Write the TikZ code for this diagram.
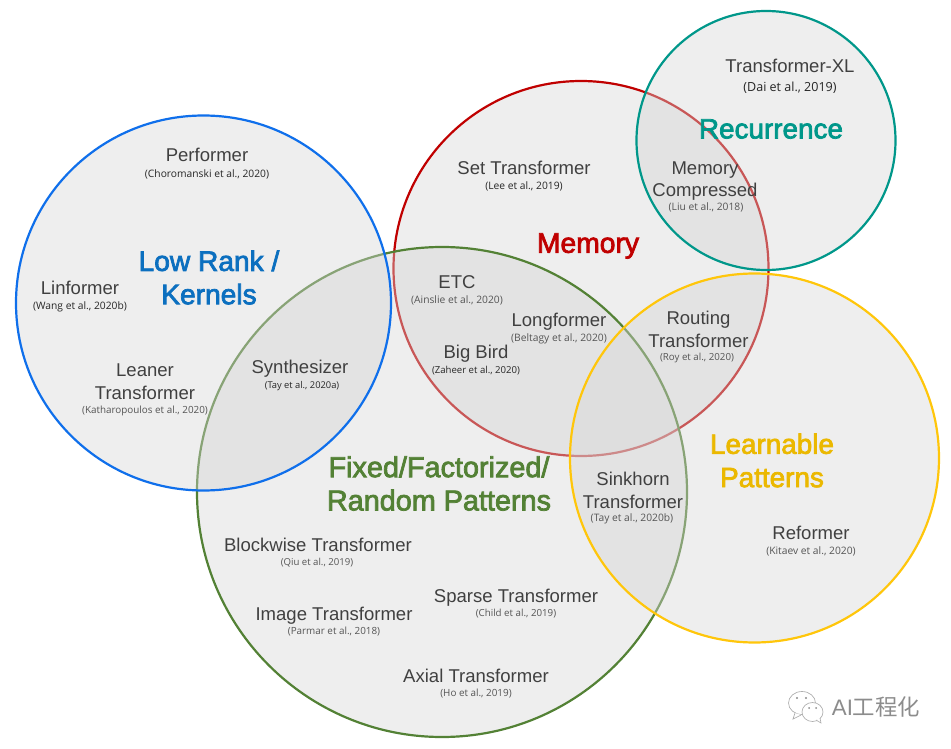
\documentclass[tikz,border=0pt]{standalone}
\usepackage{fontspec}
\setmainfont{Liberation Sans}
\newfontfamily\citefont{Open Sans}
\newfontfamily\cjkfont{Noto Sans CJK SC}
\newfontfamily\headfont[FakeBold=2.6]{Liberation Sans}

\definecolor{lowblue}{HTML}{0B6FBF}
\definecolor{lowline}{HTML}{0F6FEB}
\definecolor{memred}{HTML}{C00000}
\definecolor{recteal}{HTML}{00978A}
\definecolor{fixgreen}{HTML}{538135}
\definecolor{learnyellow}{HTML}{FFC60B}
\definecolor{learntext}{HTML}{EBB800}
\definecolor{ringgray}{HTML}{D5D5D5}
\definecolor{labelgray}{HTML}{404040}
\definecolor{citegray}{HTML}{555555}
\definecolor{markgray}{HTML}{8C8C8C}

\tikzset{
  ring/.style={line width=1.65pt, fill=ringgray, fill opacity=0.41, draw opacity=1},
  model/.style={text=labelgray, font=\fontsize{13.9pt}{17pt}\selectfont, align=center, inner sep=0pt},
  cite/.style={text=citegray, font=\citefont\fontsize{#1pt}{9pt}\selectfont, inner sep=0pt, yshift=-0.75pt},
  cite/.default=7.7,
  citedark/.style={cite=#1, text=black!85},
  citedark/.default=7.7,
  family/.style={font=\headfont\fontsize{#1pt}{25pt}\selectfont, align=center, inner sep=0pt},
  family/.default=20.9,
}

\begin{document}
\begin{tikzpicture}[x=0.75pt, y=-0.75pt]
  \useasboundingbox (0,0) rectangle (951,749);

  % Circles
  \draw[ring, draw=memred] (581,268.5) circle (187.5);
  \draw[ring, draw=fixgreen] (442,492) circle (245);
  \draw[ring, draw=lowline] (203.5,303) circle (187.5);
  \draw[ring, draw=learnyellow] (754.5,458) circle (184.5);
  \draw[ring, draw=recteal] (766,140.5) circle (129.5);

  % Family names
  \node[family=21.1, text=lowblue] (lowrank) at (209,277.5) {Low Rank /\\[0pt]Kernels};
  \node[family=21.2, text=memred] (memory) at (588,246) {Memory};
  \node[family, text=recteal] (recurrence) at (771,129) {Recurrence};
  \node[family, text=learntext] (learnable) at (772,460.5) {Learnable\\[0pt]Patterns};
  \node[family=21.6, text=fixgreen] (fixed) at (439,483.5) {Fixed/Factorized/\\[0pt]Random Patterns};

  % Low rank
  \node[model] (performer) at (207,155) {Performer};
  \node[citedark] (performercite) at (207,173) {(Choromanski et al., 2020)};
  \node[model] (linformer) at (80,288) {Linformer};
  \node[citedark] (linformercite) at (80,306) {(Wang et al., 2020b)};
  \node[model] (leaner) at (145,381.5) {Leaner\\Transformer};
  \node[cite=7.4] (leanercite) at (145,410) {(Katharopoulos et al., 2020)};
  \node[model] (synthesizer) at (300,369) {Synthesizer};
  \node[citedark=7] (synthesizercite) at (302,385) {(Tay et al., 2020a)};

  % Memory
  \node[model] (settrans) at (524,168) {Set Transformer};
  \node[citedark] (settranscite) at (524,185) {(Lee et al., 2019)};
  \node[model] (etc) at (457,282) {ETC};
  \node[cite] (etccite) at (457,299) {(Ainslie et al., 2020)};
  \node[model] (longformer) at (559,322) {Longformer};
  \node[cite] (longformercite) at (559,338) {(Beltagy et al., 2020)};
  \node[model] (bigbird) at (476,354) {Big Bird};
  \node[citedark=7.2] (bigbirdcite) at (476,370) {(Zaheer et al., 2020)};
  \node[model] (routing) at (698.5,329.5) {Routing\\Transformer};
  \node[cite=7.3] (routingcite) at (697,357) {(Roy et al., 2020)};
  \node[model] (compressed) at (705,181) {Memory\\Compressed};
  \node[cite] (compressedcite) at (706,206) {(Liu et al., 2018)};

  % Recurrence
  \node[model] (xl) at (790,66) {Transformer-XL};
  \node[citedark=9.4] (xlcite) at (790,87) {(Dai et al., 2019)};

  % Learnable
  \node[model] (sinkhorn) at (633,490.5) {Sinkhorn\\Transformer};
  \node[cite] (sinkhorncite) at (632,518) {(Tay et al., 2020b)};
  \node[model] (reformer) at (811,533) {Reformer};
  \node[cite] (reformercite) at (811,550) {(Kitaev et al., 2020)};

  % Fixed
  \node[model] (blockwise) at (318,545) {Blockwise Transformer};
  \node[cite=7.2] (blockwisecite) at (317,562) {(Qiu et al., 2019)};
  \node[model] (image) at (334,616) {Image Transformer};
  \node[cite=7.4] (imagecite) at (334,631) {(Parmar et al., 2018)};
  \node[model] (sparse) at (516,598) {Sparse Transformer};
  \node[cite=7.3] (sparsecite) at (516,613) {(Child et al., 2019)};
  \node[model] (axial) at (476,676) {Axial Transformer};
  \node[cite=7.4] (axialcite) at (476,693) {(Ho et al., 2019)};

  % Watermark
  \draw[markgray!70, line width=0.5pt, fill=white] (802,703) ellipse (13.5 and 11.5);
  \draw[markgray!70, line width=0.5pt, fill=white] (795,713) -- (793,719) -- (801,715);
  \draw[markgray!70, line width=0.5pt, fill=white] (812.5,712) ellipse (10.5 and 9.5);
  \draw[markgray!70, line width=0.5pt, fill=white] (816,720) -- (821,723) -- (820,718);
  \fill[markgray] (797,698) circle (1.2) (806,698) circle (1.2);
  \fill[markgray] (809,708) circle (1) (816,708) circle (1);
  \node[text=markgray, inner sep=0pt, font=\fontsize{16.8pt}{18pt}\selectfont] (mark) at (876,707) {AI{\cjkfont 工程化}};
\end{tikzpicture}
\end{document}
